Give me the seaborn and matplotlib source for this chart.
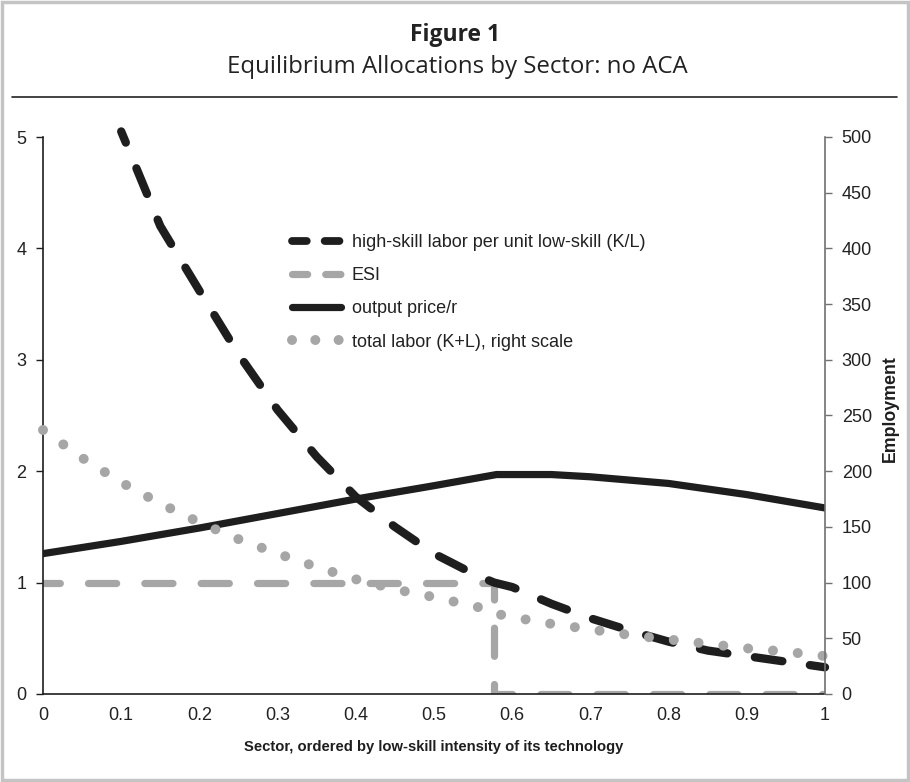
import numpy as np
import pandas as pd
import matplotlib
matplotlib.use("Agg")
import matplotlib.pyplot as plt
from matplotlib.patches import Rectangle
from matplotlib.lines import Line2D
import seaborn as sns

# ---- data ----
kl_x = [0.10, 0.15, 0.20, 0.25, 0.30, 0.35, 0.40, 0.45, 0.50, 0.55, 0.577,
        0.60, 0.65, 0.70, 0.75, 0.80, 0.85, 0.90, 0.95, 1.00]
kl_y = [5.05, 4.20, 3.62, 3.05, 2.55, 2.13, 1.77, 1.50, 1.26, 1.08, 1.00,
        0.96, 0.81, 0.68, 0.57, 0.47, 0.39, 0.34, 0.29, 0.24]

esi_x = [0.0, 0.577, 0.577, 1.0]
esi_y = [1.0, 1.0, 0.0, 0.0]

price_x = [0.0, 0.1, 0.2, 0.3, 0.4, 0.5, 0.58, 0.65, 0.70, 0.75, 0.80, 0.85, 0.90, 0.95, 1.0]
price_y = [1.26, 1.37, 1.49, 1.62, 1.75, 1.87, 1.97, 1.97, 1.95, 1.92, 1.89, 1.84, 1.79, 1.73, 1.67]

lab_x = [0.0, 0.05, 0.10, 0.15, 0.20, 0.25, 0.30, 0.35, 0.40, 0.45, 0.50, 0.55, 0.575,
         0.58, 0.60, 0.65, 0.70, 0.75, 0.80, 0.85, 0.90, 0.95, 1.00]
lab_y = [237, 212, 190, 171, 154, 139, 126, 114, 103, 94, 87, 79, 75,
         72, 69, 63, 58, 53, 49, 45, 41, 38, 34]

labels = ["high-skill labor per unit low-skill (K/L)", "ESI", "output price/r",
          "total labor (K+L), right scale"]
x_ticks = [0, 0.1, 0.2, 0.3, 0.4, 0.5, 0.6, 0.7, 0.8, 0.9, 1]
x_ticklabels = ["0", "0.1", "0.2", "0.3", "0.4", "0.5", "0.6", "0.7", "0.8", "0.9", "1"]
left_ticks = [0, 1, 2, 3, 4, 5]
right_ticks = [0, 50, 100, 150, 200, 250, 300, 350, 400, 450, 500]

# ---- style ----
sns.set_theme(style="white")
plt.rcParams["font.family"] = ["Liberation Sans", "DejaVu Sans"]

BLACK = "#1e1e1e"
GRAY = "#a6a6a6"
TXT = "#222222"
FS = 13
DPI = 100


def path_length_px(axis, xs, ys):
    p = axis.transData.transform(np.column_stack([xs, ys]))
    return float(np.sum(np.hypot(np.diff(p[:, 0]), np.diff(p[:, 1]))))


fig = plt.figure(figsize=(9.10, 7.82), dpi=DPI)
ax = fig.add_axes([43/910, 1-694/782, (825-43)/910, (694-137)/782])
ax.set_xlim(0, 1)
ax.set_ylim(0, 5)

kl_df = pd.DataFrame({"x": kl_x, "y": kl_y})
esi_df = pd.DataFrame({"x": esi_x, "y": esi_y})
pr_df = pd.DataFrame({"x": price_x, "y": price_y})
lab_df = pd.DataFrame({"x": lab_x, "y": lab_y})

sns.lineplot(data=esi_df, x="x", y="y", ax=ax, color=GRAY, lw=5.2,
             estimator=None, sort=False, linestyle=(1.57, (3.9, 3.9)),
             dash_capstyle="round", dash_joinstyle="round")
sns.lineplot(data=pr_df, x="x", y="y", ax=ax, color=BLACK, lw=5.2,
             estimator=None, solid_capstyle="round")

# K/L dashes: period chosen so the curve starts and ends inside a short dash
KL_LW = 6.0
kl_lw_px = KL_LW * DPI / 72
kl_len = path_length_px(ax, kl_x, kl_y) / kl_lw_px
n_per = max(1, int(round(kl_len / 6.8)))
kl_period = (kl_len + 0.05) / n_per
KL_ON = KL_OFF = kl_period / 2
kl_off = KL_ON - 1.45
sns.lineplot(data=kl_df, x="x", y="y", ax=ax, color=BLACK, lw=KL_LW,
             estimator=None, linestyle=(kl_off, (KL_ON, KL_OFF)),
             dash_capstyle="round", clip_on=False)

ax.set_xticks(x_ticks)
ax.set_xticklabels(x_ticklabels)
ax.set_yticks(left_ticks)
ax.set_xlabel("Sector, ordered by low-skill intensity of its technology",
              fontsize=10.6, fontweight="bold", color=BLACK, labelpad=12)
ax.set_ylabel("")
for s in ["top", "right"]:
    ax.spines[s].set_visible(False)
for s in ["left", "bottom"]:
    ax.spines[s].set_color(BLACK)
    ax.spines[s].set_linewidth(1.2)
ax.tick_params(axis="both", direction="out", length=5, width=1.0, color=BLACK,
               labelsize=FS, labelcolor=TXT, pad=4)
ax.tick_params(axis="y", pad=7)
ax.patch.set_alpha(0)

ax2 = ax.twinx()
ax2.set_ylim(0, 500)
# dotted line: choose dot spacing so that dots fall on both ends of the curve
LAB_LW = 7.2
lab_len = path_length_px(ax2, lab_x, lab_y)
n_gaps = max(1, int(round(lab_len / 25.3)))
gap = lab_len / n_gaps / (LAB_LW * DPI / 72) * 0.997
sns.lineplot(data=lab_df, x="x", y="y", ax=ax2, color=GRAY, lw=LAB_LW,
             estimator=None, linestyle=(0, (0.001, gap - 0.001)),
             dash_capstyle="round", clip_on=False)
ax2.set_ylim(0, 500)
ax2.set_yticks(right_ticks)
ax2.set_ylabel("Employment", fontsize=12.8, fontweight="bold", color=BLACK, labelpad=7)
ax2.yaxis.label.set_y((694-409)/557)
ax2.set_xlabel("")
for s in ["top", "left", "bottom"]:
    ax2.spines[s].set_visible(False)
ax2.spines["right"].set_color("#707070")
ax2.spines["right"].set_linewidth(1.2)
ax2.tick_params(axis="y", direction="out", length=5, width=1.0, color="#707070",
                labelsize=FS, labelcolor=TXT, pad=7)
ax2.patch.set_alpha(0)

# legend
handles = [
    Line2D([], [], color=BLACK, lw=5.6, linestyle=(0, (1.9, 2.3)), dash_capstyle="round"),
    Line2D([], [], color=GRAY, lw=5.2, linestyle=(0, (2.1, 2.5)), dash_capstyle="round"),
    Line2D([], [], color=BLACK, lw=5.2, solid_capstyle="round"),
    Line2D([], [], color=GRAY, lw=LAB_LW, linestyle=(0, (0.001, 2.33)), dash_capstyle="round"),
]
leg = ax2.legend(handles, labels, loc="upper left",
                 bbox_to_anchor=((292-43)/782, (694-234)/557),
                 frameon=False, fontsize=FS, handlelength=2.7, handletextpad=0.6,
                 labelspacing=0.9, borderpad=0, borderaxespad=0)
for t in leg.get_texts():
    t.set_color(TXT)

# titles and frame
fig.text(455/910, 1-35/782, "Figure 1", ha="center", va="center",
         fontsize=16.5, fontweight="bold", family=["Open Sans", "DejaVu Sans"], color=TXT)
fig.text(457/910, 1-67/782, "Equilibrium Allocations by Sector: no ACA", ha="center",
         va="center", fontsize=17.3, family=["Open Sans", "DejaVu Sans"], color=TXT)
fig.add_artist(Line2D([12/910, 897/910], [1-97/782, 1-97/782], transform=fig.transFigure,
                      color=TXT, lw=1.2))
fig.add_artist(Rectangle((2/910, 2/782), 906/910, 778/782, transform=fig.transFigure,
                         fill=False, edgecolor="#c4c4c4", lw=2.5))

fig.savefig("out.png", dpi=DPI)
